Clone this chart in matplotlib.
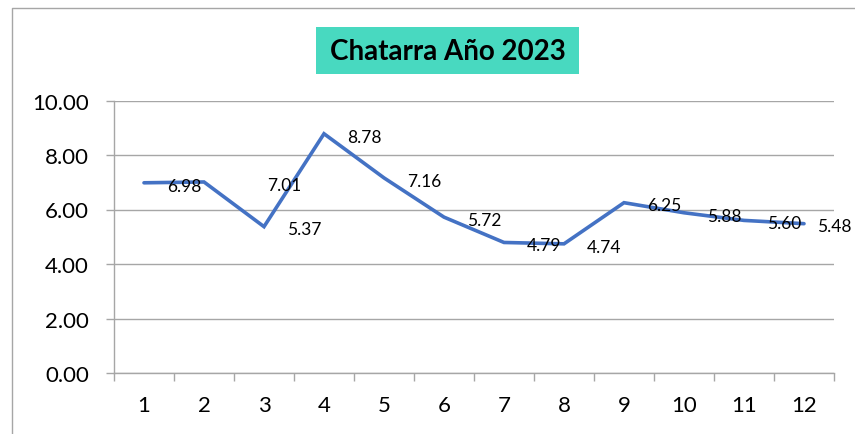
import matplotlib.pyplot as plt
from matplotlib.patches import Rectangle
from matplotlib.lines import Line2D
from matplotlib.ticker import FormatStrFormatter, FixedLocator

plt.rcParams['font.family'] = ['Lato', 'DejaVu Sans']

months = [1, 2, 3, 4, 5, 6, 7, 8, 9, 10, 11, 12]
chatarra = [6.98, 7.01, 5.37, 8.78, 7.16, 5.72, 4.79, 4.74, 6.25, 5.88, 5.60, 5.48]
title = "Chatarra Año 2023"

grey = '#A6A6A6'
blue = '#4472C4'

fig = plt.figure(figsize=(8.55, 4.35), dpi=100)
ax = fig.add_axes([114/855, 1-374/435, 720/855, (374-101.5)/435])

x = list(range(len(months)))
ax.plot(x, chatarra, color=blue, lw=2.6, solid_capstyle='round', solid_joinstyle='miter', zorder=3)

# data labels sit to the right of each point (2nd pushed further out, last pulled in)
for i, v in enumerate(chatarra):
    dx = 29
    if i == 1:
        dx = 58
    elif i == len(chatarra) - 1:
        dx = 22
    ax.annotate('{:.2f}'.format(v), xy=(x[i], v), xytext=(dx, -2),
                textcoords='offset points', ha='center', va='center',
                fontsize=12.5, color='black', zorder=4, annotation_clip=False)

ax.set_xlim(-0.5, len(months) - 0.5)
ax.set_ylim(0, 10)
ax.set_yticks([0, 2, 4, 6, 8, 10])
ax.yaxis.set_major_formatter(FormatStrFormatter('%.2f'))
ax.set_xticks(x)
ax.set_xticklabels(months)
ax.tick_params(axis='x', length=0, pad=16, labelsize=16)
ax.xaxis.set_minor_locator(FixedLocator([i - 0.5 for i in range(len(months) + 1)]))
ax.tick_params(axis='x', which='minor', length=6, width=1, color=grey, direction='out')
ax.tick_params(axis='y', length=6, width=1, color=grey, direction='out', pad=12, labelsize=16)

ax.grid(axis='y', color=grey, lw=1, zorder=0)
ax.set_axisbelow(True)
for s in ['top', 'right']:
    ax.spines[s].set_visible(False)
for s in ['left', 'bottom']:
    ax.spines[s].set_color(grey)
    ax.spines[s].set_linewidth(1)

# title box
W, H = 855, 435
fig.patches.append(Rectangle((316/W, 1-75/H), 263/W, 47/H, transform=fig.transFigure,
                             facecolor='#48D9C0', edgecolor='none'))
fig.text(447.5/W, 1-51.5/H, title, ha='center', va='center', fontsize=20,
         fontweight='bold', color='black')

# chart frame (left and top edges visible)
fig.lines.append(Line2D([11.5/W, 11.5/W, 1], [0, 1-9/H, 1-9/H], transform=fig.transFigure,
                        color=grey, lw=1))

fig.savefig('out.png', dpi=100)
